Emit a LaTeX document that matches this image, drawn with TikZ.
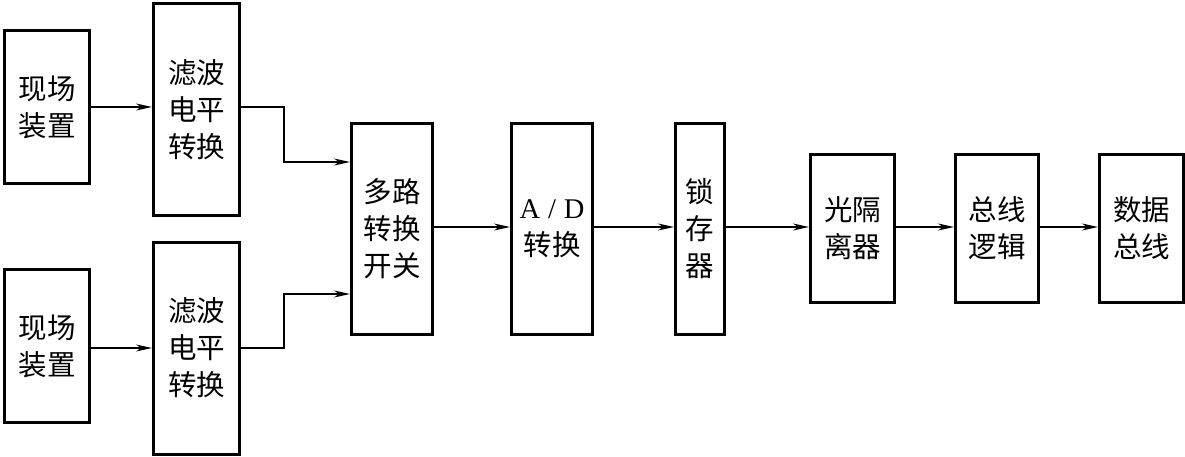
\documentclass[tikz,border=0pt]{standalone}
\usepackage{fontspec}
\setmainfont{Liberation Serif}
\newfontfamily\cjk{Noto Sans CJK SC}
\usetikzlibrary{arrows.meta}
\begin{document}
\begin{tikzpicture}[x=1pt,y=-1pt,
  blk/.style={draw,line width=3pt,inner sep=0pt,align=center,
    font=\cjk\fontsize{28.5}{37}\selectfont},
  conn/.style={line width=1.4pt,-{Stealth[length=16pt,width=7pt,inset=5pt]}}]
\useasboundingbox (0,0) rectangle (1185,457);
\node[blk,minimum width=85pt,minimum height=153pt] (f1) at (47,107) {现场\\装置};
\node[blk,minimum width=86pt,minimum height=212pt] (l1) at (196.5,109.5) {滤波\\电平\\转换};
\node[blk,minimum width=85pt,minimum height=153pt] (f2) at (47,346) {现场\\装置};
\node[blk,minimum width=86pt,minimum height=212pt] (l2) at (196.5,348) {滤波\\电平\\转换};
\node[blk,minimum width=81pt,minimum height=211pt] (m) at (392,229) {多路\\转换\\开关};
\node[blk,minimum width=81pt,minimum height=211pt] (ad) at (552,229) {{\rmfamily A\;/\;D}\\转换};
\node[blk,minimum width=49pt,minimum height=211pt] (lat) at (700,229) {锁\\存\\器};
\node[blk,minimum width=84pt,minimum height=148pt] (g) at (852.5,228.5) {光隔\\离器};
\node[blk,minimum width=83pt,minimum height=148pt] (bl) at (997,228.5) {总线\\逻辑};
\node[blk,minimum width=84pt,minimum height=148pt] (db) at (1141.5,228.5) {数据\\总线};
\coordinate (a1) at (0,107);
\coordinate (a2) at (0,348);
\coordinate (j1) at (284,162);
\coordinate (j2) at (284,294);
\coordinate (c) at (0,227);
\draw[conn] (a1 -| f1.east) -- (a1 -| l1.west);
\draw[conn] (a2 -| f2.east) -- (a2 -| l2.west);
\draw[conn] (a1 -| l1.east) -| (j1) -- (j1 -| m.west);
\draw[conn] (a2 -| l2.east) -| (j2) -- (j2 -| m.west);
\draw[conn] (c -| m.east) -- (c -| ad.west);
\draw[conn] (c -| ad.east) -- (c -| lat.west);
\draw[conn] (c -| lat.east) -- (c -| g.west);
\draw[conn] (c -| g.east) -- (c -| bl.west);
\draw[conn] (c -| bl.east) -- (c -| db.west);
\end{tikzpicture}
\end{document}
